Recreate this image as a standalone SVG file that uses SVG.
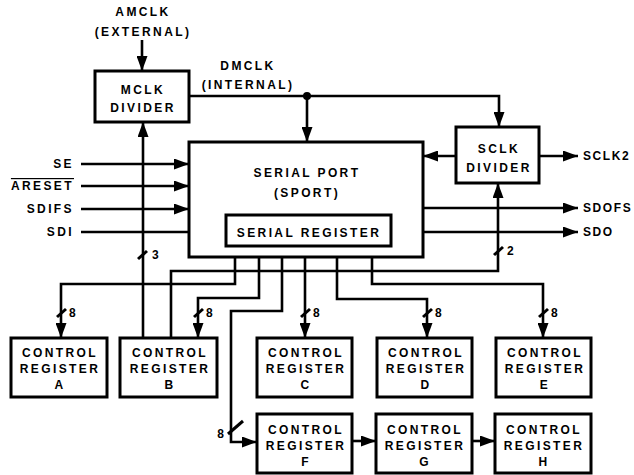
<svg xmlns="http://www.w3.org/2000/svg" width="634" height="475" viewBox="0 0 634 475">
<style>
  .box{fill:#fff;stroke:#000;stroke-width:3}
  .t{font-family:"Liberation Sans",Arial,sans-serif;font-weight:bold;font-size:12px;letter-spacing:2.4px;fill:#000}
  .r{letter-spacing:1.6px}
  .m{text-anchor:middle}
  .e{text-anchor:end}
  .d{font-family:"Liberation Sans",Arial,sans-serif;font-weight:bold;font-size:12px;fill:#000}
  .w{fill:none;stroke:#000;stroke-width:2.6;stroke-linejoin:miter}
  .a{marker-end:url(#ah)}
  .s{stroke:#000;stroke-width:3;fill:none}
</style>
<defs>
  <marker id="ah" markerUnits="userSpaceOnUse" markerWidth="16" markerHeight="11" refX="15" refY="5.5" orient="auto">
    <path d="M0,0 L15,5.5 L0,11 z" fill="#000"/>
  </marker>
</defs>
<rect width="634" height="475" fill="#fff"/>

<g id="connectors">
  <path class="w a" d="M142,40 V71"/>
  <path class="w a" d="M189,96 H499 V127"/>
  <circle cx="307" cy="96" r="4" fill="#000"/>
  <path class="w a" d="M307,96 V142"/>
  <path class="w a" d="M456,156 H423"/>
  <path class="w a" d="M539,156 H578"/>
  <path class="w a" d="M423,208 H578"/>
  <path class="w a" d="M391,232 H578"/>
  <path class="w a" d="M81,164 H189"/>
  <path class="w a" d="M81,186 H189"/>
  <path class="w a" d="M81,209 H189"/>
  <path class="w a" d="M81,232 H226"/>
  <path class="w a" d="M143,338 V122"/>
  <path class="w a" d="M171,338 V271 H498 V183"/>
  <path class="w a" d="M235,257 V284 H61 V338"/>
  <path class="w a" d="M259,257 V298 H198 V338"/>
  <path class="w a" d="M282,257 V311 H231 V442 H257"/>
  <path class="w a" d="M305,257 V338"/>
  <path class="w a" d="M337,257 V299 H427 V338"/>
  <path class="w a" d="M372,257 V284 H543 V338"/>
  <path class="w a" d="M352,441 H376"/>
  <path class="w a" d="M472,441 H495"/>
  <path class="s" d="M138,259 L147,251"/><text class="d" x="152" y="259">3</text>
  <path class="s" d="M494,255 L503,247"/><text class="d" x="507" y="255">2</text>
  <path class="s" d="M57,317 L66,309"/><text class="d" x="69" y="317">8</text>
  <path class="s" d="M194,317 L203,309"/><text class="d" x="206" y="317">8</text>
  <path class="s" d="M301,317 L310,309"/><text class="d" x="313" y="317">8</text>
  <path class="s" d="M423,317 L432,309"/><text class="d" x="435" y="317">8</text>
  <path class="s" d="M539,317 L548,309"/><text class="d" x="551" y="317">8</text>
  <path class="s" d="M228,434 L243,421"/><text class="d" x="224" y="438" text-anchor="end">8</text>
</g>

<g id="labels">
  <text class="t m" x="143" y="16">AMCLK</text>
  <text class="t m" x="143" y="36">(EXTERNAL)</text>
  <text class="t m" x="248" y="70">DMCLK</text>
  <text class="t m" x="248" y="89">(INTERNAL)</text>
  <text class="t e" x="74" y="168">SE</text>
  <text class="t e" x="74" y="190" text-decoration="overline">ARESET</text>
  <text class="t e" x="74" y="213">SDIFS</text>
  <text class="t e" x="74" y="236">SDI</text>
  <text class="t r" x="583" y="160">SCLK2</text>
  <text class="t r" x="583" y="212">SDOFS</text>
  <text class="t r" x="583" y="236">SDO</text>
</g>

<g id="mclk-divider">
  <rect class="box" x="95" y="71" width="94" height="51"/>
  <text class="t m" x="143" y="94">MCLK</text>
  <text class="t m" x="143" y="112">DIVIDER</text>
</g>

<g id="serial-port">
  <rect class="box" x="189" y="142" width="234" height="115"/>
  <text class="t m" x="307" y="177">SERIAL PORT</text>
  <text class="t m" x="307" y="197">(SPORT)</text>
</g>

<g id="serial-register">
  <rect class="box" x="226" y="215" width="165" height="31"/>
  <text class="t m" x="309" y="237">SERIAL REGISTER</text>
</g>

<g id="sclk-divider">
  <rect class="box" x="456" y="127" width="83" height="56"/>
  <text class="t m" x="499" y="153">SCLK</text>
  <text class="t m" x="499" y="172">DIVIDER</text>
</g>

<g id="cr-a">
  <rect class="box" x="11" y="338" width="96" height="59"/>
  <text class="t m" x="60" y="357">CONTROL</text>
  <text class="t m" x="60" y="373">REGISTER</text>
  <text class="t m" x="60" y="389">A</text>
</g>
<g id="cr-b">
  <rect class="box" x="120" y="338" width="97" height="59"/>
  <text class="t m" x="170" y="357">CONTROL</text>
  <text class="t m" x="170" y="373">REGISTER</text>
  <text class="t m" x="170" y="389">B</text>
</g>
<g id="cr-c">
  <rect class="box" x="257" y="338" width="95" height="59"/>
  <text class="t m" x="306" y="357">CONTROL</text>
  <text class="t m" x="306" y="373">REGISTER</text>
  <text class="t m" x="306" y="389">C</text>
</g>
<g id="cr-d">
  <rect class="box" x="377" y="338" width="95" height="59"/>
  <text class="t m" x="426" y="357">CONTROL</text>
  <text class="t m" x="426" y="373">REGISTER</text>
  <text class="t m" x="426" y="389">D</text>
</g>
<g id="cr-e">
  <rect class="box" x="496" y="338" width="95" height="59"/>
  <text class="t m" x="545" y="357">CONTROL</text>
  <text class="t m" x="545" y="373">REGISTER</text>
  <text class="t m" x="545" y="389">E</text>
</g>
<g id="cr-f">
  <rect class="box" x="257" y="414" width="95" height="59"/>
  <text class="t m" x="306" y="434">CONTROL</text>
  <text class="t m" x="306" y="450">REGISTER</text>
  <text class="t m" x="306" y="466">F</text>
</g>
<g id="cr-g">
  <rect class="box" x="376" y="414" width="96" height="59"/>
  <text class="t m" x="425" y="434">CONTROL</text>
  <text class="t m" x="425" y="450">REGISTER</text>
  <text class="t m" x="425" y="466">G</text>
</g>
<g id="cr-h">
  <rect class="box" x="495" y="414" width="96" height="59"/>
  <text class="t m" x="544" y="434">CONTROL</text>
  <text class="t m" x="544" y="450">REGISTER</text>
  <text class="t m" x="544" y="466">H</text>
</g>
</svg>
